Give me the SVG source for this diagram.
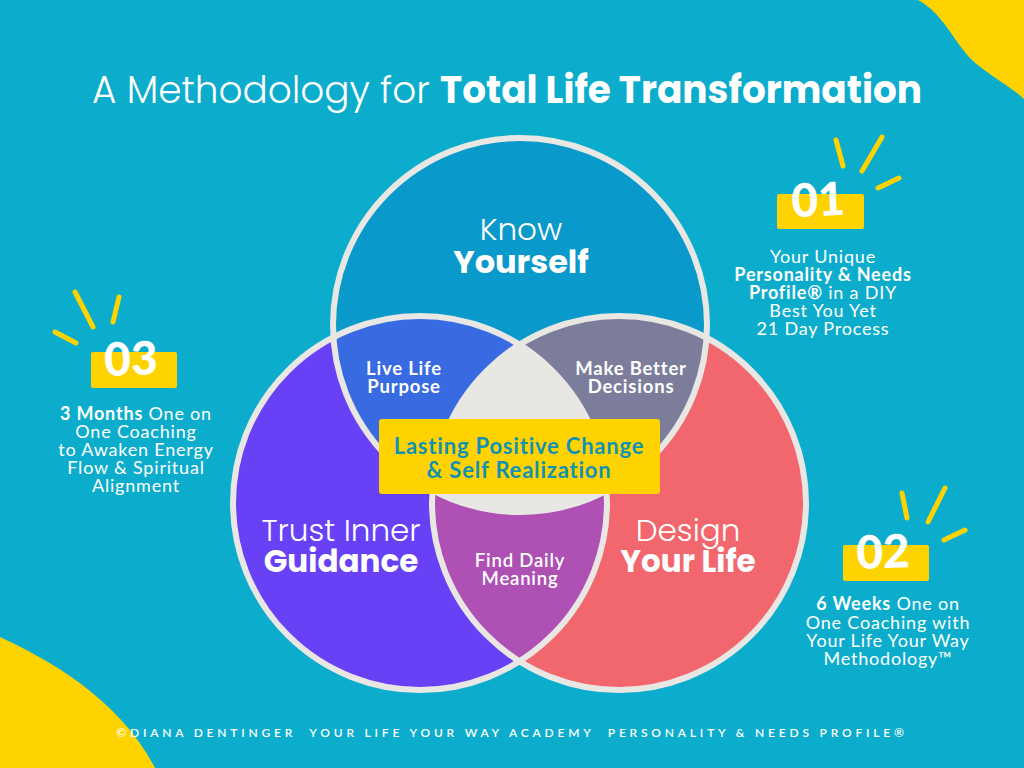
<svg xmlns="http://www.w3.org/2000/svg" width="1024" height="768" viewBox="0 0 1024 768">
<defs>
<style>
.bg{fill:#0CADCC}
.yl{fill:#FFD300}
.ring{fill:none;stroke:#E9E7E4;stroke-width:6}
.ray{stroke:#FFD300;stroke-width:5;stroke-linecap:round;fill:none}
.big{font-family:Poppins,Inter,"Open Sans",sans-serif;fill:#fff;text-anchor:middle;font-size:31px}
.lt{font-weight:300}
.bd{font-weight:700}
.sm{font-family:Lato,"Liberation Sans",sans-serif;fill:#fff;text-anchor:middle;font-size:18.5px;font-weight:700;letter-spacing:0.8px}
.desc{font-family:Lato,"Liberation Sans",sans-serif;fill:#fff;text-anchor:middle;font-size:18px;font-weight:400;letter-spacing:0.8px}
.num{font-family:Lato,Inter,sans-serif;fill:#fff;text-anchor:middle;font-size:46px;font-weight:900}
</style>
<clipPath id="cT"><circle cx="520" cy="325" r="187"/></clipPath>
<clipPath id="cL"><circle cx="420" cy="503" r="187"/></clipPath>
<clipPath id="cR"><circle cx="619" cy="503" r="187"/></clipPath>
</defs>
<rect class="bg" x="0" y="0" width="1024" height="768"/>
<path class="yl" d="M918,0 C944,14 955,44 973,61 C990,76 1010,86 1024,99 L1024,0 Z"/>
<path class="yl" d="M0,637 C50,660 120,700 155,768 L0,768 Z"/>

<text class="big" x="507" y="103" style="font-size:38px" textLength="830" lengthAdjust="spacingAndGlyphs"><tspan class="lt">A Methodology for </tspan><tspan class="bd">Total Life Transformation</tspan></text>

<g id="venn">
<g id="circle-know"><circle cx="520" cy="325" r="187" fill="#0A99CB"/></g>
<g id="circle-trust"><circle cx="420" cy="503" r="187" fill="#6841F7"/></g>
<g id="circle-design"><circle cx="619" cy="503" r="187" fill="#F2676D"/></g>
<g id="overlap-know-trust" clip-path="url(#cT)"><circle cx="420" cy="503" r="187" fill="#386BE2"/></g>
<g id="overlap-know-design" clip-path="url(#cT)"><circle cx="619" cy="503" r="187" fill="#7C7D9B"/></g>
<g id="overlap-trust-design" clip-path="url(#cL)"><circle cx="619" cy="503" r="187" fill="#AE50B4"/></g>
<g id="overlap-center" clip-path="url(#cT)"><g clip-path="url(#cL)"><circle cx="619" cy="503" r="187" fill="#E8E6E3"/></g></g>
<g id="rings">
<circle class="ring" cx="520" cy="325" r="187"/>
<circle class="ring" cx="420" cy="503" r="187"/>
<circle class="ring" cx="619" cy="503" r="187"/>
</g>
</g>

<g id="label-know">
<text class="big lt" x="521" y="240">Know</text>
<text class="big bd" x="521" y="273" style="font-size:32px">Yourself</text>
</g>
<g id="label-trust">
<text class="big lt" x="341" y="541">Trust Inner</text>
<text class="big bd" x="341" y="572">Guidance</text>
</g>
<g id="label-design">
<text class="big lt" x="688" y="541">Design</text>
<text class="big bd" x="688" y="572">Your Life</text>
</g>
<g id="label-live">
<text class="sm" x="404" y="375">Live Life</text>
<text class="sm" x="404" y="393">Purpose</text>
</g>
<g id="label-decisions">
<text class="sm" x="631" y="375">Make Better</text>
<text class="sm" x="631" y="393">Decisions</text>
</g>
<g id="label-meaning">
<text class="sm" x="520" y="567" style="font-weight:600">Find Daily</text>
<text class="sm" x="520" y="585" style="font-weight:600">Meaning</text>
</g>

<g id="center-box">
<rect x="379" y="419" width="281" height="75" rx="3" fill="#FFD300"/>
<text class="sm" x="519" y="454" style="fill:#1192B2;font-size:22px">Lasting Positive Change</text>
<text class="sm" x="519" y="478" style="fill:#1192B2;font-size:22px">&amp; Self Realization</text>
</g>

<g id="badge-01">
<line class="ray" x1="836" y1="140" x2="843" y2="166"/>
<line class="ray" x1="882" y1="137" x2="862" y2="171"/>
<line class="ray" x1="899" y1="178" x2="878" y2="188"/>
<rect x="777" y="194" width="87" height="35" rx="2" class="yl"/>
<text class="num" x="818" y="216" transform="rotate(-3 818 200)">01</text>
<text class="desc" x="823" y="263">Your Unique</text>
<text class="desc" x="823" y="281" style="font-weight:700">Personality &amp; Needs</text>
<text class="desc" x="823" y="299"><tspan style="font-weight:700">Profile®</tspan> in a DIY</text>
<text class="desc" x="823" y="317">Best You Yet</text>
<text class="desc" x="823" y="335">21 Day Process</text>
</g>

<g id="badge-03">
<line class="ray" x1="75" y1="292" x2="93" y2="327"/>
<line class="ray" x1="119" y1="297" x2="113" y2="322"/>
<line class="ray" x1="55" y1="332" x2="76" y2="343"/>
<rect x="91" y="352" width="86" height="36" rx="2" class="yl"/>
<text class="num" x="131" y="375" transform="rotate(-2 131 360)">03</text>
<text class="desc" x="136" y="420"><tspan style="font-weight:700">3 Months</tspan> One on</text>
<text class="desc" x="136" y="438">One Coaching</text>
<text class="desc" x="136" y="456">to Awaken Energy</text>
<text class="desc" x="136" y="474">Flow &amp; Spiritual</text>
<text class="desc" x="136" y="492">Alignment</text>
</g>

<g id="badge-02">
<line class="ray" x1="902" y1="493" x2="907" y2="518"/>
<line class="ray" x1="945" y1="488" x2="928" y2="522"/>
<line class="ray" x1="965" y1="530" x2="944" y2="540"/>
<rect x="843" y="545" width="86" height="36" rx="2" class="yl"/>
<text class="num" x="883" y="568" transform="rotate(-2 883 552)">02</text>
<text class="desc" x="888" y="610"><tspan style="font-weight:700">6 Weeks</tspan> One on</text>
<text class="desc" x="888" y="629">One Coaching with</text>
<text class="desc" x="888" y="647">Your Life Your Way</text>
<text class="desc" x="888" y="665">Methodology™</text>
</g>

<g id="connectors"/>

<text id="footer" x="512" y="737" xml:space="preserve" style="font-family:Lato,'Liberation Sans',sans-serif;font-size:12px;font-weight:600;letter-spacing:3.8px;fill:#fff;text-anchor:middle">©DIANA DENTINGER  YOUR LIFE YOUR WAY ACADEMY  PERSONALITY &amp; NEEDS PROFILE®</text>
</svg>
